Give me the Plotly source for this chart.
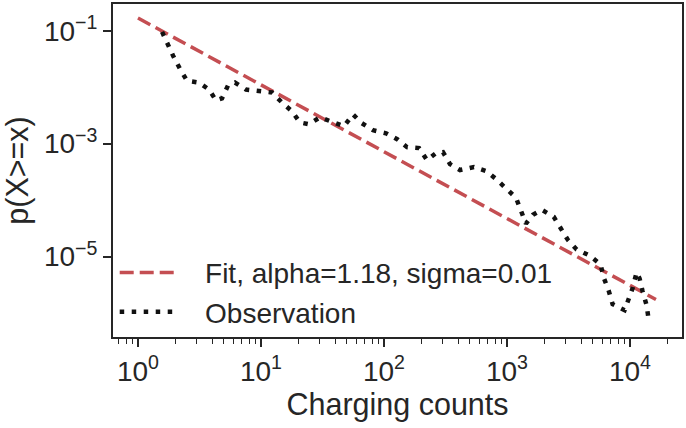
import plotly.graph_objects as go

# ---- data ----
obs_x = [1.57, 1.75, 1.93, 2.19, 2.50, 3.13, 3.78, 4.31, 4.82, 5.39,
         6.15, 7.55, 9.63, 12.3, 14.8, 17.9, 20.7, 24.5, 30.2, 38.5,
         47.3, 56.0, 66.2, 81.4, 104, 128, 154, 193, 224, 265,
         302, 344, 415, 539, 675, 814, 982, 1183, 1300, 1426,
         1626, 1916, 2399, 2730, 3112, 3683, 4698, 5768, 6105, 6700,
         7228, 9040, 9750, 10500, 11320, 11970, 12660, 13650, 14170]
obs_y = [0.096, 0.0567, 0.0363, 0.0214, 0.0131, 0.0121, 0.0091, 0.00585, 0.00634, 0.0107,
         0.0121, 0.0091, 0.00877, 0.00807, 0.00538, 0.00374, 0.00239, 0.00221, 0.00293, 0.00239,
         0.00203, 0.00331, 0.0023, 0.00173, 0.00153, 0.0012, 0.000867, 0.000834, 0.000512, 0.00068,
         0.000708, 0.000435, 0.000341, 0.000386, 0.000328, 0.000237, 0.000158, 0.00011, 6.47e-5, 3.82e-5,
         5.5e-5, 6.73e-5, 5.07e-5, 3.11e-5, 2.0e-5, 1.33e-5, 1.04e-5, 7.23e-6, 4.27e-6, 2.52e-6,
         1.43e-6, 1.12e-6, 1.75e-6, 2.73e-6, 5.22e-6, 4.09e-6, 2.42e-6, 1.37e-6, 7.76e-7]

fit_x = [1.0, 16260]
fit_y = [0.169, 1.73e-6]

fit_label = "Fit, alpha=1.18, sigma=0.01"
obs_label = "Observation"

x_tickvals = [1, 10, 100, 1000, 10000]
x_ticktext = ["10<sup>0</sup>", "10<sup>1</sup>", "10<sup>2</sup>", "10<sup>3</sup>", "10<sup>4</sup>"]
y_tickvals = [1e-1, 1e-3, 1e-5]
y_ticktext = ["10<sup>\u22121</sup>", "10<sup>\u22123</sup>", "10<sup>\u22125</sup>"]

x_minor = [k * 10.0 ** d for d in range(-1, 5) for k in range(2, 10)
           if 0.63 <= k * 10.0 ** d <= 26000]

FONT = "Liberation Sans, Arial, sans-serif"
INK = "#262626"
PAD = "\u00a0\u00a0\u00a0"

fig = go.Figure()
fig.add_trace(go.Scatter(
    x=fit_x, y=fit_y, mode="lines", name=PAD + fit_label,
    line=dict(color="#C44E52", width=3.5, dash="14px,6px"),
))
fig.add_trace(go.Scatter(
    x=obs_x, y=obs_y, mode="lines", name=PAD + obs_label,
    line=dict(color="#111111", width=4.5, dash="4.5px,7.5px"),
))

fig.update_layout(
    width=686, height=428,
    margin=dict(l=113, r=4, t=2, b=91),
    paper_bgcolor="white", plot_bgcolor="white",
    font=dict(family=FONT, color=INK, size=28),
    showlegend=True,
    legend=dict(
        x=0.003, y=0.268, xanchor="left", yanchor="top",
        bgcolor="rgba(0,0,0,0)", borderwidth=0,
        font=dict(size=28, color=INK, family=FONT),
        itemwidth=57, tracegroupgap=0,
    ),
)

fig.update_xaxes(
    type="log", range=[-0.203, 4.423],
    showline=True, mirror=True, linecolor=INK, linewidth=2,
    showgrid=False, zeroline=False,
    ticks="outside", ticklen=8, tickwidth=1.6, tickcolor=INK,
    tickmode="array", tickvals=x_tickvals, ticktext=x_ticktext,
    tickfont=dict(size=28, family=FONT, color=INK),
    minor=dict(ticks="outside", ticklen=5, tickwidth=1.2, tickcolor=INK,
               tickmode="array", tickvals=x_minor, showgrid=False),
    title=dict(text="Charging counts", font=dict(size=30.5, family=FONT, color=INK), standoff=4),
)
fig.update_yaxes(
    type="log", range=[-6.427, -0.524],
    showline=True, mirror=True, linecolor=INK, linewidth=2,
    showgrid=False, zeroline=False,
    ticks="outside", ticklen=8, tickwidth=1.6, tickcolor=INK,
    tickmode="array", tickvals=y_tickvals, ticktext=y_ticktext,
    tickfont=dict(size=28, family=FONT, color=INK),
    title=dict(text="p(X>=x)", font=dict(size=30.5, family=FONT, color=INK), standoff=8),
)

fig.write_html("out.html")
